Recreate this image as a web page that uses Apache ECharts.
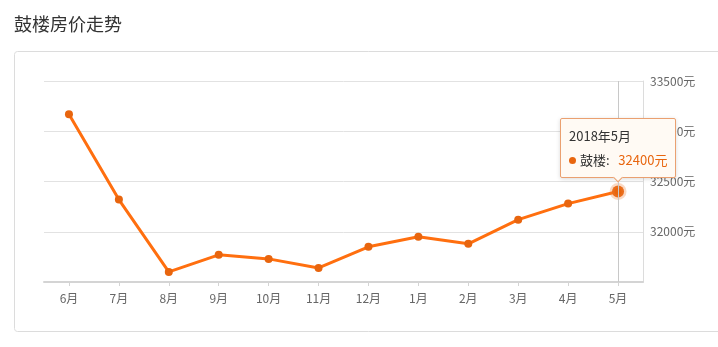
<!DOCTYPE html>
<html>
<head>
<meta charset="utf-8">
<script src="https://cdn.jsdelivr.net/npm/echarts@6/dist/echarts.min.js"></script>
<style>
html,body{margin:0;padding:0;background:#fff;}
#chart{width:718px;height:347px;}
</style>
</head>
<body>
<div id="chart"></div>
<script>
var titleText = '鼓楼房价走势';
var seriesName = '鼓楼';
var categories = ['6月','7月','8月','9月','10月','11月','12月','1月','2月','3月','4月','5月'];
var periods = ['2017年6月','2017年7月','2017年8月','2017年9月','2017年10月','2017年11月','2017年12月','2018年1月','2018年2月','2018年3月','2018年4月','2018年5月'];
var prices = [33170, 32320, 31600, 31770, 31730, 31640, 31850, 31950, 31880, 32120, 32280, 32400];
var yTicks = [31500, 32000, 32500, 33000, 33500];
var unit = '元';

var FONT = '"Noto Sans CJK SC", "Noto Sans", sans-serif';
var ORANGE = '#e8650e';
var last = prices.length - 1;

var chart = echarts.init(document.getElementById('chart'));
chart.setOption({
  animation: false,
  textStyle: { fontFamily: FONT },
  title: {
    text: titleText, left: 9, top: 10,
    textStyle: { fontSize: 18, fontWeight: 'normal', color: '#333', fontFamily: FONT }
  },
  graphic: [{
    type: 'rect', silent: true, z: -1,
    shape: { x: 14.5, y: 51.5, width: 730, height: 280, r: 3 },
    style: { fill: 'none', stroke: '#dcdcdc', lineWidth: 1 }
  }],
  grid: { left: 44, right: 75, top: 81, bottom: 65 },
  tooltip: {
    trigger: 'item',
    alwaysShowContent: true,
    position: 'top',
    backgroundColor: '#fffaf4',
    borderColor: '#eaa070',
    borderWidth: 1,
    padding: [5, 8],
    extraCssText: 'border-radius:2px;box-shadow:0 1px 4px rgba(0,0,0,0.15);',
    formatter: function (p) {
      return '<div style="font-family:' + FONT.replace(/"/g, "'") + ';font-size:13px;color:#333;line-height:24px;">' +
        periods[p.dataIndex] + '<br/>' +
        '<span style="display:inline-block;width:7px;height:7px;border-radius:50%;background:' + ORANGE + ';margin-right:4px;vertical-align:1px;"></span>' +
        p.seriesName + ':&nbsp;&nbsp;&nbsp;<span style="color:' + ORANGE + ';font-size:13px;">' + p.value + unit + '</span></div>';
    }
  },
  xAxis: {
    type: 'category',
    data: categories,
    boundaryGap: true,
    axisLine: { show: true, lineStyle: { color: '#d4d4d4', width: 2 } },
    axisTick: { show: true, alignWithLabel: true, length: 4, lineStyle: { color: '#d4d4d4' } },
    axisLabel: { color: '#666', fontSize: 12, margin: 10, fontFamily: FONT },
    axisPointer: {
      show: true, type: 'line', value: last, status: 'show', triggerTooltip: false,
      label: { show: false },
      lineStyle: { color: '#c8c8c8', width: 1, type: 'solid' }
    }
  },
  yAxis: {
    type: 'value',
    position: 'right',
    min: yTicks[0], max: yTicks[yTicks.length - 1], interval: yTicks[1] - yTicks[0],
    axisLine: { show: true, lineStyle: { color: '#dcdcdc', width: 1 } },
    axisTick: { show: false },
    axisLabel: { color: '#666', fontSize: 12, margin: 7, showMinLabel: false, fontFamily: FONT,
      formatter: function (v) { return v + unit; } },
    splitLine: { show: true, lineStyle: { color: '#e2e2e2', width: 1 } }
  },
  series: [{
    name: seriesName,
    type: 'line',
    data: prices,
    symbol: 'circle',
    symbolSize: 8,
    lineStyle: { color: ORANGE, width: 3 },
    itemStyle: { color: ORANGE },
    emphasis: {
      scale: 1.5,
      itemStyle: { color: ORANGE, borderColor: 'rgba(240,130,60,0.3)', borderWidth: 5 }
    }
  }]
});
chart.dispatchAction({ type: 'showTip', seriesIndex: 0, dataIndex: last });
chart.dispatchAction({ type: 'highlight', seriesIndex: 0, dataIndex: last });
</script>
</body>
</html>
